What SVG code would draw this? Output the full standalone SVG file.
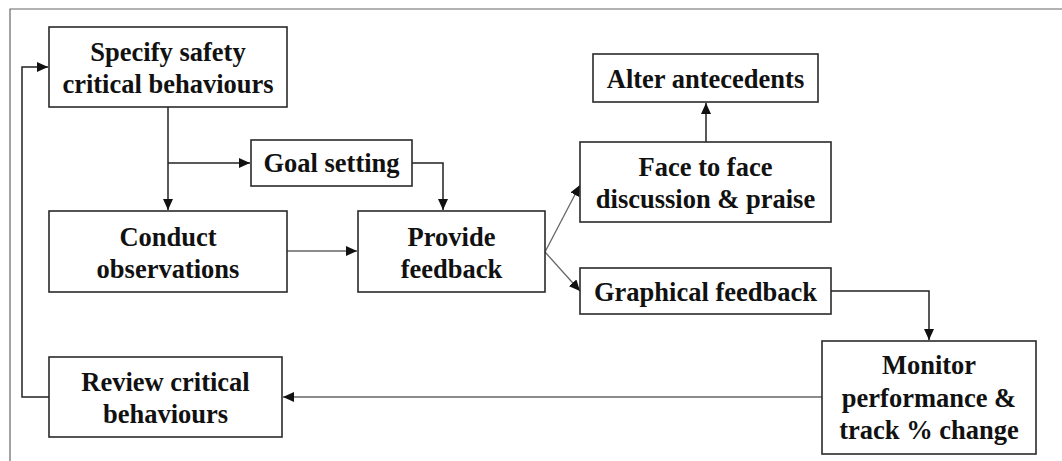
<svg xmlns="http://www.w3.org/2000/svg" width="1062" height="461" viewBox="0 0 1062 461">
<defs>
<marker id="ah" markerUnits="userSpaceOnUse" markerWidth="12" markerHeight="10" refX="11" refY="5" orient="auto">
<path d="M0,0 L11,5 L0,10 z" fill="#111"/>
</marker>
</defs>
<rect width="1062" height="461" fill="#fff"/>
<path d="M10,461 L10,9 L1062,9" fill="none" stroke="#666" stroke-width="1.2"/>
<g id="connectors" fill="none" stroke="#222" stroke-width="1.5">
<path d="M49,397 H22 V67 H48" marker-end="url(#ah)"/>
<path d="M168,107 V210" marker-end="url(#ah)"/>
<path d="M168,163 H250" marker-end="url(#ah)"/>
<path d="M412,163 H443 V210" marker-end="url(#ah)"/>
<path d="M287,251 H357" stroke="#666" stroke-width="1.3" marker-end="url(#ah)"/>
<path d="M545,252 L580,185" stroke="#666" stroke-width="1.3" marker-end="url(#ah)"/>
<path d="M545,252 L580,291" stroke="#666" stroke-width="1.3" marker-end="url(#ah)"/>
<path d="M706,142 V103" marker-end="url(#ah)"/>
<path d="M831,291 H929 V340" marker-end="url(#ah)"/>
<path d="M822,397 H283" stroke="#666" stroke-width="1.3" marker-end="url(#ah)"/>
</g>
<g id="specify">
<rect x="49" y="27" width="238" height="80" fill="#fff" stroke="#2a2a2a" stroke-width="1.6"/>
<text x="168" y="61" style="font-family:'Liberation Serif','Times New Roman',serif;font-weight:700;font-size:26.5px" fill="#111" text-anchor="middle">Specify safety</text>
<text x="168" y="93" style="font-family:'Liberation Serif','Times New Roman',serif;font-weight:700;font-size:26.5px" fill="#111" text-anchor="middle">critical behaviours</text>
</g>
<g id="goal">
<rect x="251" y="140" width="161" height="46" fill="#fff" stroke="#2a2a2a" stroke-width="1.6"/>
<text x="331.5" y="172" style="font-family:'Liberation Serif','Times New Roman',serif;font-weight:700;font-size:26.5px" fill="#111" text-anchor="middle">Goal setting</text>
</g>
<g id="conduct">
<rect x="49" y="211" width="238" height="81" fill="#fff" stroke="#2a2a2a" stroke-width="1.6"/>
<text x="168" y="246" style="font-family:'Liberation Serif','Times New Roman',serif;font-weight:700;font-size:26.5px" fill="#111" text-anchor="middle">Conduct</text>
<text x="168" y="278" style="font-family:'Liberation Serif','Times New Roman',serif;font-weight:700;font-size:26.5px" fill="#111" text-anchor="middle">observations</text>
</g>
<g id="provide">
<rect x="358" y="211" width="187" height="81" fill="#fff" stroke="#2a2a2a" stroke-width="1.6"/>
<text x="451.5" y="246" style="font-family:'Liberation Serif','Times New Roman',serif;font-weight:700;font-size:26.5px" fill="#111" text-anchor="middle">Provide</text>
<text x="451.5" y="278" style="font-family:'Liberation Serif','Times New Roman',serif;font-weight:700;font-size:26.5px" fill="#111" text-anchor="middle">feedback</text>
</g>
<g id="alter">
<rect x="593" y="54" width="225" height="48" fill="#fff" stroke="#2a2a2a" stroke-width="1.6"/>
<text x="705.5" y="88" style="font-family:'Liberation Serif','Times New Roman',serif;font-weight:700;font-size:26.5px" fill="#111" text-anchor="middle">Alter antecedents</text>
</g>
<g id="face">
<rect x="580" y="142" width="251" height="80" fill="#fff" stroke="#2a2a2a" stroke-width="1.6"/>
<text x="705.5" y="176" style="font-family:'Liberation Serif','Times New Roman',serif;font-weight:700;font-size:26.5px" fill="#111" text-anchor="middle">Face to face</text>
<text x="705.5" y="208" style="font-family:'Liberation Serif','Times New Roman',serif;font-weight:700;font-size:26.5px" fill="#111" text-anchor="middle">discussion &amp; praise</text>
</g>
<g id="graphical">
<rect x="580" y="268" width="251" height="46" fill="#fff" stroke="#2a2a2a" stroke-width="1.6"/>
<text x="705.5" y="301" style="font-family:'Liberation Serif','Times New Roman',serif;font-weight:700;font-size:26.5px" fill="#111" text-anchor="middle">Graphical feedback</text>
</g>
<g id="monitor">
<rect x="822" y="341" width="214" height="113" fill="#fff" stroke="#2a2a2a" stroke-width="1.6"/>
<text x="929" y="374" style="font-family:'Liberation Serif','Times New Roman',serif;font-weight:700;font-size:26.5px" fill="#111" text-anchor="middle">Monitor</text>
<text x="929" y="407" style="font-family:'Liberation Serif','Times New Roman',serif;font-weight:700;font-size:26.5px" fill="#111" text-anchor="middle">performance &amp;</text>
<text x="929" y="439" style="font-family:'Liberation Serif','Times New Roman',serif;font-weight:700;font-size:26.5px" fill="#111" text-anchor="middle">track % change</text>
</g>
<g id="review">
<rect x="49" y="357" width="233" height="80" fill="#fff" stroke="#2a2a2a" stroke-width="1.6"/>
<text x="165.5" y="391" style="font-family:'Liberation Serif','Times New Roman',serif;font-weight:700;font-size:26.5px" fill="#111" text-anchor="middle">Review critical</text>
<text x="165.5" y="423" style="font-family:'Liberation Serif','Times New Roman',serif;font-weight:700;font-size:26.5px" fill="#111" text-anchor="middle">behaviours</text>
</g>
</svg>
